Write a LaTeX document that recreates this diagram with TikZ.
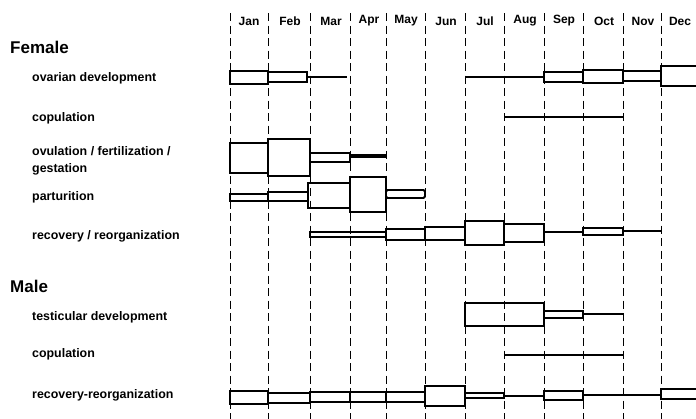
\documentclass[tikz,border=0pt]{standalone}
\usepackage{fontspec}
\setmainfont{Liberation Sans}
\newcommand\gbox[4]{\draw[box] (#1,#3) rectangle (#2,#4);}
\newcommand\gline[3]{\draw[ln] (#1,#3) -- (#2,#3);}
\begin{document}
\begin{tikzpicture}[x=1pt,y=-1pt,
  box/.style={draw=black,line width=1.8pt},
  ln/.style={draw=black,line width=1.2pt},
  gridln/.style={draw=black,line width=0.9pt,dash pattern=on 8pt off 4.5pt},
  lab/.style={anchor=west,font=\bfseries\fontsize{12.4}{17}\selectfont,inner sep=0pt,align=left},
  head/.style={anchor=west,font=\bfseries\fontsize{17}{19}\selectfont,inner sep=0pt},
  mon/.style={font=\bfseries\fontsize{12}{13}\selectfont,inner sep=0pt}]
\useasboundingbox (0,0) rectangle (696,418);
% month grid
\foreach \xx in {230,268,310,350,386,425,465,504,544,583,623,661}
  \draw[gridln] (\xx,13) -- (\xx,420);
% month labels
\foreach \nm/\xc in {Jan/249,Feb/290,Mar/331,Apr/369,May/406,Jun/446,Jul/485,Aug/525,Sep/564,Oct/604,Nov/643,Dec/680}
  \node[mon] (m\nm) at (\xc,21) {\nm};
% left labels
\node[head] (female) at (10,47) {Female};
\node[lab] (ovar) at (32,78) {ovarian development};
\node[lab] (fcop) at (32,118) {copulation};
\node[lab] (ovul) at (32,160.5) {ovulation / fertilization /\\gestation};
\node[lab] (part) at (32,197) {parturition};
\node[lab] (frec) at (32,236) {recovery / reorganization};
\node[head] (male) at (10,286) {Male};
\node[lab] (test) at (32,317) {testicular development};
\node[lab] (mcop) at (32,354) {copulation};
\node[lab] (mrec) at (32,395) {recovery-reorganization};
% ovarian development
\gbox{230}{268}{71}{84}
\gbox{268}{307}{72}{82}
\gline{307}{347}{77}
\gline{465}{544}{77}
\gbox{544}{583}{72}{82}
\gbox{583}{623}{70}{83}
\gbox{623}{661}{71}{81}
\draw[box] (700,66) -- (661,66) -- (661,86) -- (700,86);
% female copulation
\gline{504}{623}{117}
% ovulation
\gbox{230}{268}{143}{173}
\gbox{268}{310}{139}{176}
\gbox{310}{350}{153}{162}
\draw[box,fill=black] (350,154.5) rectangle (385,157.5);
% parturition
\gbox{230}{268}{194}{201}
\gbox{268}{308}{192}{201}
\gbox{308}{350}{183}{208}
\gbox{350}{386}{177}{212}
\draw[box,rounded corners=1.5pt] (386,190) rectangle (425,198);
% female recovery
\gbox{310}{386}{232}{237}
\gbox{386}{425}{229}{240}
\gbox{425}{465}{227}{240}
\gbox{465}{504}{221}{245}
\gbox{504}{544}{224}{242}
\gline{544}{583}{232}
\gbox{583}{623}{228}{235}
\gline{623}{661}{231}
% testicular
\gbox{465}{544}{303}{326}
\gbox{544}{583}{311}{318}
\gline{583}{623}{314}
% male copulation
\gline{504}{623}{355}
% male recovery
\gbox{230}{268}{391}{404}
\gbox{268}{310}{393}{403}
\gbox{310}{350}{392}{402}
\gbox{350}{386}{392}{402}
\gbox{386}{425}{392}{402}
\gbox{425}{465}{386}{406}
\gbox{465}{504}{393}{398}
\gline{504}{544}{396}
\gbox{544}{583}{391}{400}
\gline{583}{661}{395}
\draw[box] (700,389) -- (661,389) -- (661,399) -- (700,399);
\end{tikzpicture}
\end{document}
